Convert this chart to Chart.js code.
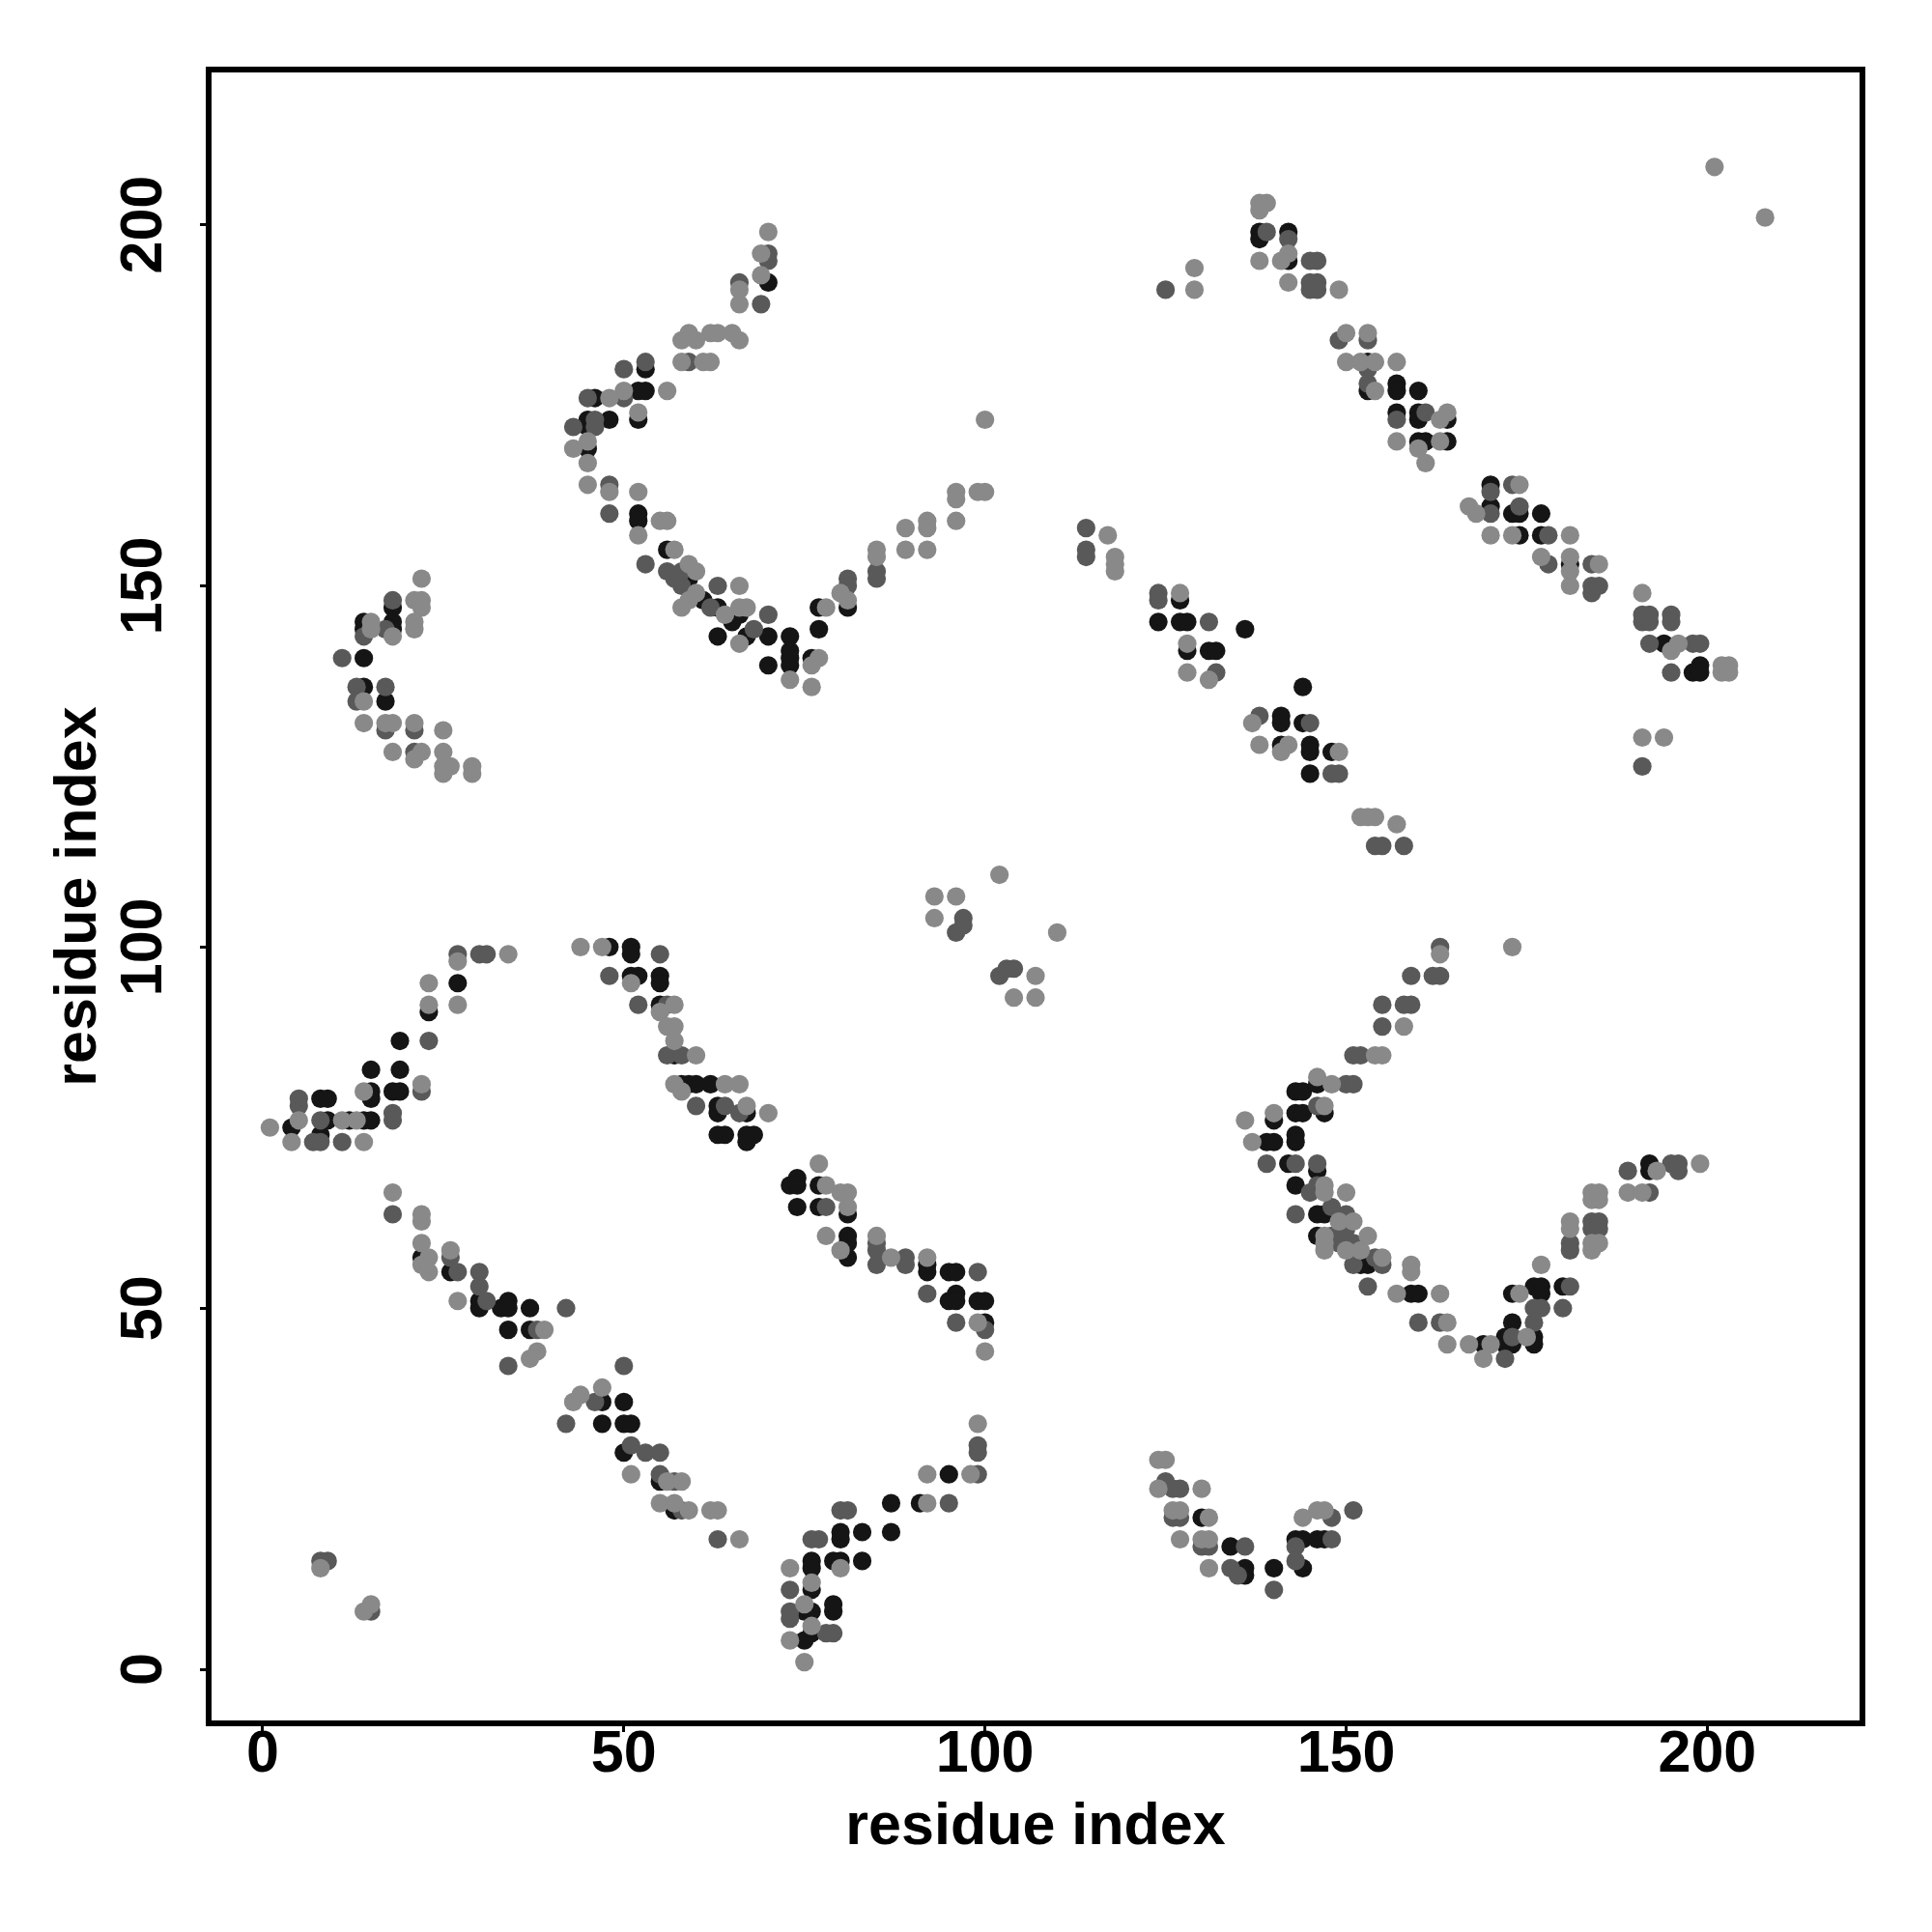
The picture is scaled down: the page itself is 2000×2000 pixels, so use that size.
<!DOCTYPE html>
<html>
<head>
<meta charset="utf-8">
<script src="https://cdn.jsdelivr.net/npm/chart.js@4.4.1/dist/chart.umd.min.js"></script>
<style>
  body { margin: 0; background: #fff; }
  #wrap { width: 2000px; height: 2000px; }
</style>
</head>
<body>
<div id="wrap"><canvas id="contacts" width="2000" height="2000"></canvas></div>
<script>
const axisTicks = [0, 50, 100, 150, 200];
const axisTitle = "residue index";

// contact pairs [residue i, residue j], grouped by how strong the contact is
const weakContacts = [
  [70,199],[69,196],[69,193],[66,191],[66,189],[58,184],[59,185],[60,184],[62,185],[63,185],[65,185],[66,184],
  [58,181],[61,181],[62,181],[56,177],[50,177],[48,176],[52,174],[45,170],[43,169],[45,167],[45,164],[48,163],
  [52,163],[52,157],[55,159],[56,159],[57,155],[59,153],[66,150],[66,147],[67,147],[58,147],[66,142],
  [60,149],[59,148],[64,146],[60,152],
  [22,151],[21,148],[22,148],[22,147],[15,145],[21,145],[15,144],[21,144],[18,143],[14,131],[17,131],[18,131],
  [21,131],[25,130],[18,127],[22,127],[21,126],[25,127],[25,125],[26,125],[25,124],[29,125],[29,124],[14,134],
  [27,98],[34,99],[23,95],[23,92],[27,92],[14,80],[22,81],[1,75],[5,76],[11,76],[13,76],[4,73],[14,73],
  [44,100],[47,100],[51,95],[57,92],[55,91],[56,89],[57,89],[57,87],[60,85],[57,81],[64,81],[66,81],[58,80],[67,78],[70,77],
  [77,70],[78,67],[80,66],[81,66],[81,64],[78,60],[80,58],[85,60],[87,57],[92,57],[99,48],[100,44],
  [18,66],[22,63],[22,62],[22,59],[23,57],[22,56],[23,55],[26,58],[27,51],[39,47],[38,44],[37,43],[43,37],[44,38],
  [47,39],[51,27],[56,26],[58,26],[55,23],[57,23],[59,22],[62,22],[63,22],[66,18],[8,14],[14,8],[15,9],
  [73,14],[76,12],[75,9],[76,6],[73,4],[75,1],[80,14],[92,27],[98,27],[92,23],[99,34],
  [102,110],[93,107],[96,107],[93,104],[110,102],[107,96],[104,93],[107,93],
  [100,173],[96,163],[96,162],[99,163],[100,163],[96,159],[89,158],[92,159],[92,158],[89,155],[92,155],[85,155],
  [85,154],[81,148],[78,147],[77,140],[76,139],[76,136],[73,137],[80,149],
  [138,203],[139,203],[138,202],[142,196],[138,195],[141,195],[142,192],[149,191],[150,185],[153,185],[150,181],
  [152,181],[154,181],[157,181],[154,177],[163,173],[164,174],[157,170],[160,169],[163,170],[161,167],[174,164],
  [167,161],[168,160],[170,157],[173,157],[181,157],[177,154],[181,154],[181,152],[181,150],[185,153],[191,149],
  [196,142],[195,141],[202,139],[203,139],[202,138],[203,138],[191,129],[194,129],[201,208],[208,201],[129,194],[129,191],
  [117,157],[118,154],[118,153],[118,152],[127,149],[128,142],[128,138],[131,137],[137,131],[138,128],[142,128],
  [141,127],[149,127],[152,118],[153,118],[154,118],[157,117],
  [136,76],[140,77],[137,73],[146,82],[148,81],[147,78],[147,67],[147,66],[150,66],[151,62],[147,60],[147,59],
  [147,58],[153,60],[150,58],[155,57],[159,56],[159,55],[157,52],[163,52],[164,48],[164,45],[167,45],[170,45],
  [169,43],[175,46],[177,56],[174,52],[149,62],[152,58],
  [181,62],[181,61],[184,59],[184,58],[185,59],[184,66],[185,66],[184,65],[185,65],[189,66],[191,66],[193,69],
  [199,70],[163,99],[173,100],[158,89],[154,85],[155,85],
  [124,29],[125,29],[124,25],[130,25],[126,22],[127,22],[127,18],[130,18],[131,18],[131,14],[144,21],[146,22],
  [147,22],[131,21]
];

const mediumContacts = [
  [70,196],[70,195],[66,192],[69,189],[59,181],[50,180],[53,181],[50,176],[45,176],[46,173],[43,172],[46,172],
  [48,164],[48,160],[53,153],[56,152],[58,152],[63,150],[70,146],[58,150],[62,147],[68,144],[57,151],
  [18,148],[17,144],[14,143],[11,140],[13,136],[17,136],[13,134],[17,130],[21,130],[21,127],
  [27,99],[30,99],[31,99],[22,80],[18,77],[18,76],[5,79],[5,78],[8,76],[7,73],[8,73],[11,73],[23,87],
  [55,99],[48,96],[52,92],[56,92],[56,85],[58,85],[60,78],[64,78],[66,77],
  [78,64],[85,59],[85,58],[85,56],[89,57],[89,56],[99,55],[92,52],[96,48],[100,47],
  [18,63],[26,57],[27,55],[30,55],[30,53],[31,51],[42,50],[38,47],[34,42],[50,42],[46,37],[42,34],[51,31],
  [53,30],[55,30],[55,27],[57,26],[58,22],[63,18],[8,15],[9,15],[15,8],
  [76,18],[77,18],[80,22],[81,22],[73,11],[73,8],[73,7],[99,31],[99,30],[99,27],[95,23],[78,5],[79,5],
  [97,104],[96,102],[97,103],[102,96],[103,97],[104,97],
  [85,152],[85,151],[81,151],[81,150],
  [139,199],[142,198],[145,195],[146,195],[145,192],[146,192],[145,191],[146,191],[149,184],[153,184],[153,180],
  [153,178],[161,174],[157,173],[170,163],[173,164],[174,161],[170,160],[178,157],[178,153],[184,153],[184,150],
  [184,149],[185,150],[191,146],[192,146],[191,145],[195,146],[195,145],[192,145],[192,142],[198,142],[199,142],
  [195,138],[191,125],[125,191],
  [114,158],[114,155],[114,154],[124,149],[124,148],[131,145],[132,138],[138,132],[145,131],[148,124],[149,124],
  [154,114],[155,114],[158,114],
  [146,78],[139,70],[143,70],[146,70],[150,81],[151,81],[143,63],[150,63],[149,59],[151,59],[151,56],[153,53],
  [160,48],[163,48],[172,43],[155,56],[146,67],[145,66],[148,60],[173,46],[176,48],[176,50],[177,50],[180,50],[181,53],
  [148,64],[150,61],[154,57],
  [181,59],[181,58],[184,62],[185,62],[184,61],[185,61],[192,66],[189,69],[195,70],[196,70],[196,69],[163,100],
  [159,96],[162,96],[163,96],[155,92],[158,92],[159,92],[155,89],[151,85],[152,85],
  [125,26],[126,25],[127,25],[126,21],[127,21],[130,17],[131,17],[136,17],[134,14],[135,13],[140,11],[143,17],
  [143,15],[151,22],[148,21],[148,18]
];

const strongContacts = [
  [70,192],[53,180],[52,177],[53,177],[46,176],[52,173],[48,173],[45,173],[45,172],[45,169],[52,160],[52,159],
  [56,155],[63,147],[59,151],[61,148],[65,145],
  [18,147],[14,145],[18,145],[14,144],[18,144],[14,140],[14,136],[17,134],
  [27,95],[23,91],[19,87],[15,83],[19,83],[15,80],[15,79],[18,80],[19,80],[8,79],[9,79],[4,75],[9,76],[12,76],
  [14,76],[15,76],[8,74],
  [48,100],[51,100],[51,99],[51,96],[52,96],[55,96],[55,95],[55,92],[57,85],[58,81],[59,81],[60,81],[62,81],
  [63,78],[63,77],[67,77],[63,74],[64,74],[67,74],[68,74],[67,73],
  [74,68],[73,67],[74,67],[77,67],[74,64],[77,64],[81,63],[81,60],[81,59],[81,57],[92,56],[92,55],[95,55],
  [96,55],[95,51],[96,52],[96,51],[99,51],[100,51],[100,48],
  [22,57],[26,55],[30,51],[30,50],[33,50],[34,51],[34,50],[37,50],[34,47],[37,47],[47,37],[50,37],[47,34],
  [50,34],[51,34],[50,30],[55,26],[57,22],
  [80,19],[80,18],[83,19],[87,19],[76,15],[76,14],[79,15],[80,15],[83,15],[76,11],[79,9],[79,8],[75,8],[76,8],
  [76,5],[75,4],[95,27],[87,23],[91,23],
  [81,147],[77,147],[70,143],[73,143],[73,141],[73,140],[73,139],[76,140],[77,144],[66,146],[63,143],[67,143],[70,139],
  [138,199],[138,198],[142,199],[142,195],[153,181],[153,177],[157,178],[157,177],[160,177],[157,174],[160,174],
  [160,173],[164,173],[160,170],[161,170],[164,170],[170,164],[170,161],[173,160],[174,160],[177,160],[174,157],
  [177,157],[181,153],[194,142],[198,138],[199,139],[199,138],
  [127,148],[124,145],[127,145],[128,145],[128,141],[131,141],[132,141],[136,144],[144,136],[141,132],[141,131],
  [144,131],[141,128],[145,128],[145,127],[148,127],[145,124],
  [143,80],[144,80],[146,81],[140,76],[143,77],[144,77],[139,73],[140,73],[143,74],[143,73],[142,70],[146,69],
  [143,67],[146,63],[147,63],[153,56],[152,56],[159,52],[160,52],[172,46],[176,46],[176,45],[169,45],[172,45],
  [173,45],[173,48],[173,52],[176,53],[177,53],[177,52],[180,53],[147,77],[146,60],[192,70],[192,69],
  [130,21],[134,17],[136,14],[136,13],[140,14],[143,18],[144,18],[144,14],[146,18],[147,18]
];

const toPoints = pairs => pairs.map(p => ({ x: p[0], y: p[1] }));

const labelFont = { family: "'Liberation Sans', Arial, sans-serif", size: 61, weight: "bold" };

// the plot is framed by a full box like base R graphics
const frameBox = {
  id: "frameBox",
  afterDatasetsDraw(chart) {
    const a = chart.chartArea;
    const ctx = chart.ctx;
    ctx.save();
    ctx.strokeStyle = "#000";
    ctx.lineWidth = 6;
    ctx.strokeRect(a.left, a.top, a.right - a.left, a.bottom - a.top);
    ctx.restore();
  }
};

function setTicks(scale) {
  scale.ticks = axisTicks.map(v => ({ value: v }));
}

new Chart(document.getElementById("contacts"), {
  type: "scatter",
  data: {
    datasets: [
      { label: "weak", data: toPoints(weakContacts), backgroundColor: "#898989" },
      { label: "medium", data: toPoints(mediumContacts), backgroundColor: "#595959" },
      { label: "strong", data: toPoints(strongContacts), backgroundColor: "#151515" }
    ]
  },
  options: {
    responsive: false,
    animation: false,
    events: [],
    layout: { padding: { top: 72, right: 72, left: 0, bottom: 0 } },
    elements: { point: { radius: 9.6, borderWidth: 0, hoverRadius: 9.6 } },
    plugins: { legend: { display: false }, tooltip: { enabled: false } },
    scales: {
      x: {
        type: "linear",
        min: -7.48,
        max: 221.48,
        afterBuildTicks: setTicks,
        afterFit: s => { s.height = 216; },
        border: { display: false },
        grid: { drawOnChartArea: false, drawTicks: true, tickLength: 9, lineWidth: 3, color: "#000" },
        ticks: { color: "#000", font: labelFont, padding: -12, maxRotation: 0 },
        title: { display: true, text: axisTitle, color: "#000", font: labelFont, padding: { top: 0, bottom: 71 } }
      },
      y: {
        type: "linear",
        min: -7.48,
        max: 221.48,
        afterBuildTicks: setTicks,
        afterFit: s => { s.width = 216; },
        border: { display: false },
        grid: { drawOnChartArea: false, drawTicks: true, tickLength: 9, lineWidth: 3, color: "#000" },
        ticks: { color: "#000", font: labelFont, padding: 6, minRotation: 90, maxRotation: 90, crossAlign: "center" },
        title: { display: true, text: axisTitle, color: "#000", font: labelFont, padding: { top: 46, bottom: 0 } }
      }
    }
  },
  plugins: [frameBox]
});
</script>
</body>
</html>
